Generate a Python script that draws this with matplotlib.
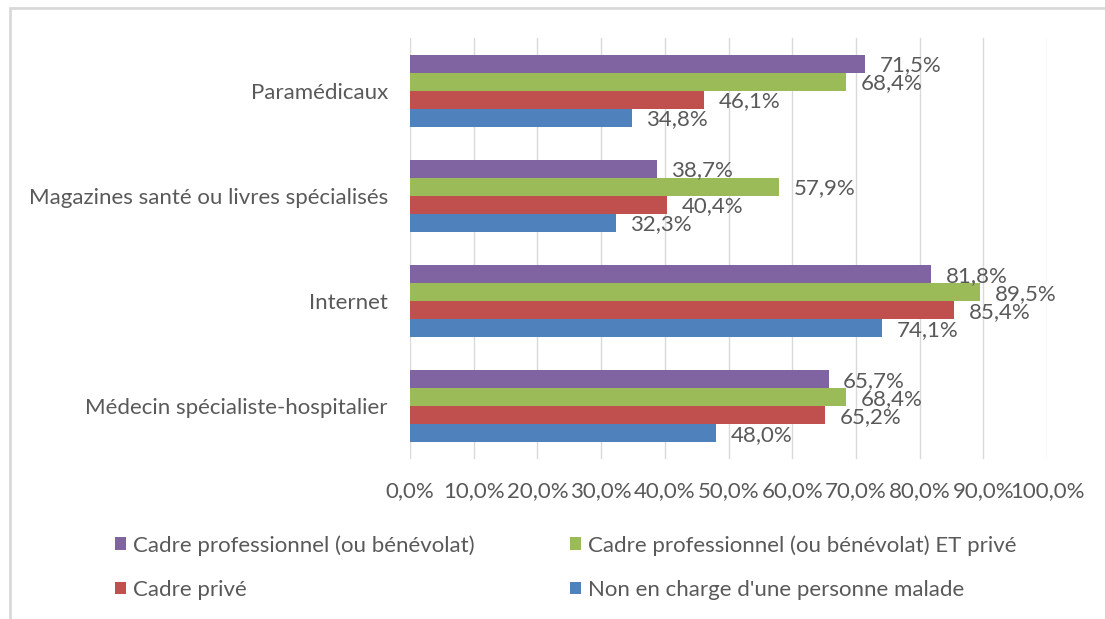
import matplotlib
matplotlib.use("Agg")
import matplotlib.pyplot as plt
from matplotlib.patches import Rectangle
import numpy as np

categories = ["Médecin spécialiste-hospitalier", "Internet",
              "Magazines santé ou livres spécialisés", "Paramédicaux"]
series_names = ["Cadre professionnel (ou bénévolat)",
                "Cadre professionnel (ou bénévolat) ET privé",
                "Cadre privé",
                "Non en charge d'une personne malade"]
cadre_pro = [65.7, 81.8, 38.7, 71.5]
cadre_pro_prive = [68.4, 89.5, 57.9, 68.4]
cadre_prive = [65.2, 85.4, 40.4, 46.1]
non_charge = [48.0, 74.1, 32.3, 34.8]
xticks = [0, 10, 20, 30, 40, 50, 60, 70, 80, 90, 100]

colors = ["#8064A2", "#9BBB59", "#C0504D", "#4F81BD"]
text_color = "#595959"
plt.rcParams['font.family'] = ['Lato', 'DejaVu Sans']
FS = 16

fig = plt.figure(figsize=(11.05, 6.19), dpi=100)
ax = fig.add_axes([410/1105, 1-459/619, (1047-410)/1105, (459-38)/619])

all_series = [cadre_pro, cadre_pro_prive, cadre_prive, non_charge]
y = np.arange(len(categories))
h = 0.171
offsets = [1.5*h, 0.5*h, -0.5*h, -1.5*h]
handles = []
for vals, off, col, name in zip(all_series, offsets, colors, series_names):
    bars = ax.barh(y + off, vals, height=h, color=col, label=name, zorder=3)
    handles.append(bars)
    for yi, v in zip(y, vals):
        ax.text(v + 2.3, yi + off - 0.015, f"{v:.1f}%".replace(".", ","),
                va="center", ha="left", fontsize=FS, color=text_color, zorder=4)

ax.set_xlim(0, 100)
ax.set_ylim(-0.5, len(categories) - 0.5)
ax.set_xticks(xticks)
ax.set_xticklabels([f"{t:.1f}%".replace(".", ",") for t in xticks])
ax.set_yticks(y)
ax.set_yticklabels(categories)
ax.tick_params(axis="both", length=0, labelsize=FS, colors=text_color)
ax.tick_params(axis="x", pad=16)
ax.tick_params(axis="y", pad=16)
ax.grid(axis="x", color="#d9d9d9", linewidth=1, zorder=0)
for s in ax.spines.values():
    s.set_visible(False)

# legend order: row-major purple, green / red, blue
order = [0, 2, 1, 3]
leg = fig.legend([handles[i] for i in order], [series_names[i] for i in order],
                 ncol=2, loc="upper left", bbox_to_anchor=(115/1105, 1-535/619),
                 frameon=False, fontsize=FS, handlelength=0.5, handleheight=0.5,
                 handletextpad=0.3, columnspacing=4.3, labelspacing=1.1,
                 borderpad=0, borderaxespad=0, labelcolor=text_color)

fig.patches.append(Rectangle((10/1105, -0.1), 1.2, 1.1 - 8/619,
                             transform=fig.transFigure, fill=False,
                             edgecolor="#d9d9d9", linewidth=2))

fig.savefig("out.png", dpi=100)
